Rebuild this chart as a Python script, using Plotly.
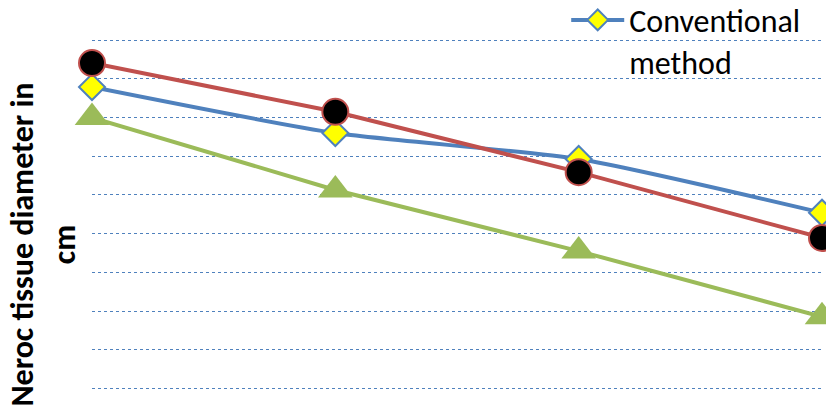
import plotly.graph_objects as go

categories = ["1", "2", "3", "4"]
conventional = [7.79, 6.60, 5.93, 4.54]
series_red = [8.41, 7.15, 5.59, 3.89]
series_green = [7.00, 5.13, 3.55, 1.85]
grid_vals = [0, 1, 2, 3, 4, 5, 6, 7, 8, 9]

FONT = "Carlito, Lato, 'Liberation Sans', sans-serif"

fig = go.Figure()
fig.add_trace(go.Scatter(
    x=categories, y=series_green, mode="lines+markers", showlegend=False,
    line=dict(color="#9BBB59", width=4),
    marker=dict(symbol="triangle-up", size=30, color="#9BBB59", line=dict(width=0)),
    cliponaxis=False))
fig.add_trace(go.Scatter(
    x=categories, y=conventional, mode="lines+markers", name="Conventional<br>method",
    line=dict(color="#4F81BD", width=4, shape="spline", smoothing=0.6),
    marker=dict(symbol="diamond", size=20, color="#FFFF00", line=dict(color="#4F81BD", width=2)),
    cliponaxis=False))
fig.add_trace(go.Scatter(
    x=categories, y=series_red, mode="lines+markers", showlegend=False,
    line=dict(color="#C0504D", width=4),
    marker=dict(symbol="circle", size=26, color="#000000", line=dict(color="#C0504D", width=2)),
    cliponaxis=False))

fig.update_layout(
    width=826, height=411,
    margin=dict(l=92, r=4, t=0, b=0, autoexpand=False),
    paper_bgcolor="white", plot_bgcolor="white",
    font=dict(family=FONT, color="#000000"),
    showlegend=True,
    legend=dict(x=0.6496, y=1.018, xanchor="left", yanchor="top", valign="top",
                font=dict(size=32, family=FONT), bgcolor="rgba(0,0,0,0)",
                itemwidth=53, tracegroupgap=0),
    xaxis=dict(type="category", range=[0, 3], showgrid=False, showticklabels=False,
               zeroline=False, showline=False, ticks=""),
    yaxis=dict(range=[-0.584, 10.04], tickvals=grid_vals, showticklabels=False,
               showgrid=True, gridcolor="#4F81BD", gridwidth=1, griddash="dot",
               zeroline=False, showline=False, ticks=""),
)

fig.add_annotation(
    text="<b>Neroc tissue diameter in<br>cm</b>", xref="paper", yref="paper",
    x=-0.0658, y=0.405, xanchor="center", yanchor="middle", textangle=-90,
    showarrow=False, font=dict(size=32, family=FONT, color="#000000"))

fig.write_html("out.html")
